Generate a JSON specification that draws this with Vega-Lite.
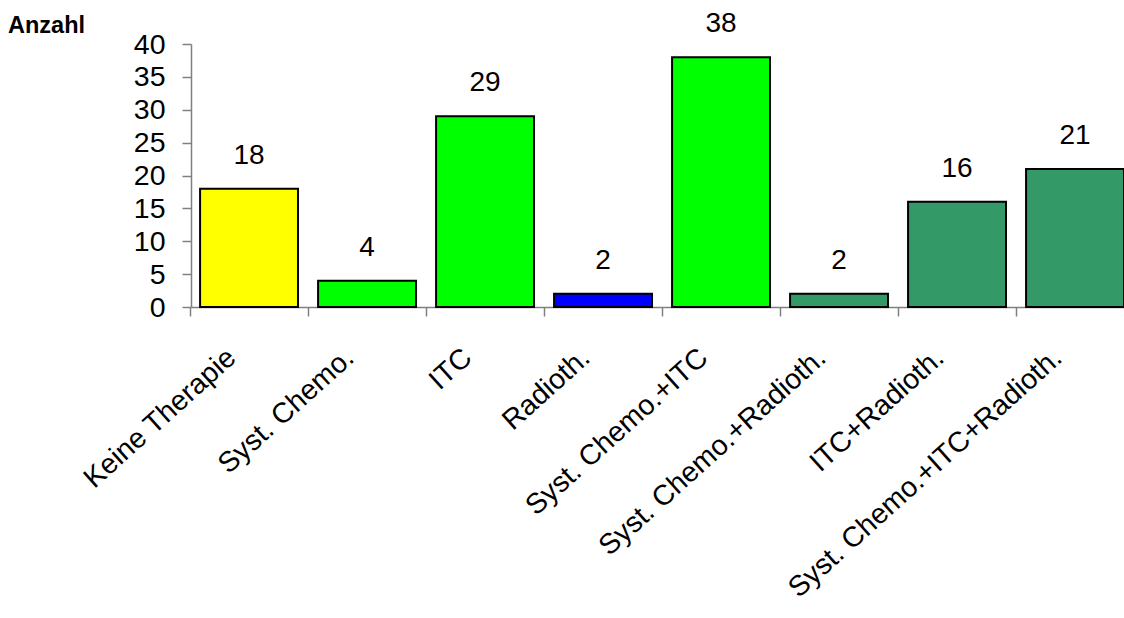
{
  "$schema": "https://vega.github.io/schema/vega-lite/v6.json",
  "width": 933,
  "height": 263,
  "autosize": {"type": "none"},
  "padding": {"left": 191, "top": 44, "right": 0, "bottom": 311},
  "background": "white",
  "config": {
    "view": {"stroke": null},
    "font": "Liberation Sans",
    "axis": {"grid": false}
  },
  "title": {
    "text": "Anzahl",
    "anchor": "start",
    "frame": "group",
    "orient": "top",
    "font": "Liberation Sans",
    "fontSize": 23.5,
    "fontWeight": "bold",
    "color": "black",
    "dx": -183,
    "dy": 27,
    "offset": 0
  },
  "data": {
    "values": [
      {"therapie": "Keine Therapie", "anzahl": 18, "gruppe": "keine"},
      {"therapie": "Syst. Chemo.", "anzahl": 4, "gruppe": "einzeln"},
      {"therapie": "ITC", "anzahl": 29, "gruppe": "einzeln"},
      {"therapie": "Radioth.", "anzahl": 2, "gruppe": "radio"},
      {"therapie": "Syst. Chemo.+ITC", "anzahl": 38, "gruppe": "einzeln"},
      {"therapie": "Syst. Chemo.+Radioth.", "anzahl": 2, "gruppe": "kombi"},
      {"therapie": "ITC+Radioth.", "anzahl": 16, "gruppe": "kombi"},
      {"therapie": "Syst. Chemo.+ITC+Radioth.", "anzahl": 21, "gruppe": "kombi"}
    ]
  },
  "encoding": {
    "x": {
      "field": "therapie",
      "type": "nominal",
      "sort": null,
      "title": null,
      "scale": {"paddingInner": 0.17, "paddingOuter": 0.0385, "align": 1},
      "axis": {
        "labelAngle": -42,
        "labelAlign": "right",
        "labelBaseline": "middle",
        "labelFont": "Liberation Sans",
        "labelFontSize": 28.5,
        "labelColor": "black",
        "labelPadding": 37,
        "labelOffset": 41,
        "labelLimit": 500,
        "tickOffset": -59,
        "tickSize": 9,
        "tickColor": "#808080",
        "domainColor": "#808080",
        "tickWidth": 1.5,
        "domainWidth": 1.5
      }
    },
    "y": {
      "field": "anzahl",
      "type": "quantitative",
      "title": null,
      "scale": {"domain": [0, 40], "nice": false, "zero": true},
      "axis": {
        "values": [0, 5, 10, 15, 20, 25, 30, 35, 40],
        "labelFont": "Liberation Sans",
        "labelFontSize": 28.5,
        "labelColor": "black",
        "labelPadding": 17,
        "labelBaseline": "middle",
        "tickSize": 9,
        "tickColor": "#808080",
        "domainColor": "#808080",
        "tickWidth": 1.5,
        "domainWidth": 1.5
      }
    }
  },
  "layer": [
    {
      "mark": {"type": "bar", "stroke": "black", "strokeWidth": 2},
      "encoding": {
        "color": {
          "field": "gruppe",
          "type": "nominal",
          "legend": null,
          "scale": {
            "domain": ["keine", "einzeln", "radio", "kombi"],
            "range": ["#FFFF00", "#00FF00", "#0000FF", "#339966"]
          }
        }
      }
    },
    {
      "mark": {"type": "text", "baseline": "bottom", "dy": -19, "fontSize": 28, "font": "Liberation Sans", "color": "black"},
      "encoding": {"text": {"field": "anzahl", "type": "quantitative"}}
    }
  ]
}
